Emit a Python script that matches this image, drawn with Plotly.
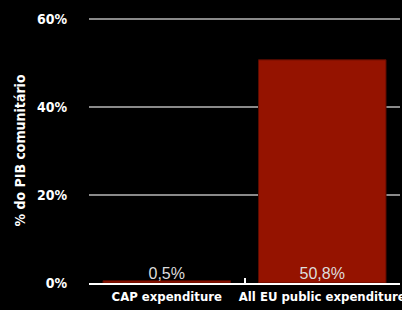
import plotly.graph_objects as go

categories = ["CAP expenditure", "All EU public expenditure"]
values = [0.5, 50.8]
y_ticks = [0, 20, 40, 60]
y_title = "% do PIB comunitário"

labels = [f"{v:.1f}".replace(".", ",") + "%" for v in values]
y_ticktext = [f"{t}%" for t in y_ticks]

FONT_B = "DejaVu Sans Condensed"

fig = go.Figure()
fig.add_trace(go.Bar(
    x=categories, y=values,
    marker=dict(color="#951300", line=dict(color="#5a0b00", width=1)),
    width=0.82,
    hoverinfo="skip",
))
fig.add_trace(go.Scatter(
    x=categories, y=[0] * len(categories), mode="text",
    text=labels, textposition="top center",
    textfont=dict(family="Liberation Sans, Arial", size=16, color="#dddddd"),
    hoverinfo="skip", cliponaxis=False,
))
fig.update_layout(
    width=402, height=310,
    margin=dict(l=89, r=2, t=18, b=27),
    paper_bgcolor="black", plot_bgcolor="black",
    showlegend=False,
    font=dict(family=FONT_B, color="white", size=14),
)
fig.update_xaxes(
    type="category",
    showline=True, linecolor="white", linewidth=2,
    ticks="inside", tickson="boundaries", ticklen=5, tickcolor="white", tickwidth=2,
    showgrid=False, tickangle=0, automargin=False,
    tickfont=dict(family=FONT_B, size=13, color="white", weight="bold"),
)
fig.update_yaxes(
    range=[0, 60.3],
    tickvals=y_ticks, ticktext=y_ticktext,
    showgrid=True, gridcolor="#8a8a8a", gridwidth=2,
    zeroline=False, automargin=False,
    ticks="outside", ticklen=18, tickcolor="black",
    tickfont=dict(family=FONT_B, size=14, color="white", weight="bold"),
    title=dict(text=y_title, font=dict(family=FONT_B, size=14, color="white", weight="bold"), standoff=8),
)
fig.write_html(
    "out.html",
    config={"displayModeBar": False},
    post_script="document.body.style.margin='0';document.body.style.background='black';",
)
